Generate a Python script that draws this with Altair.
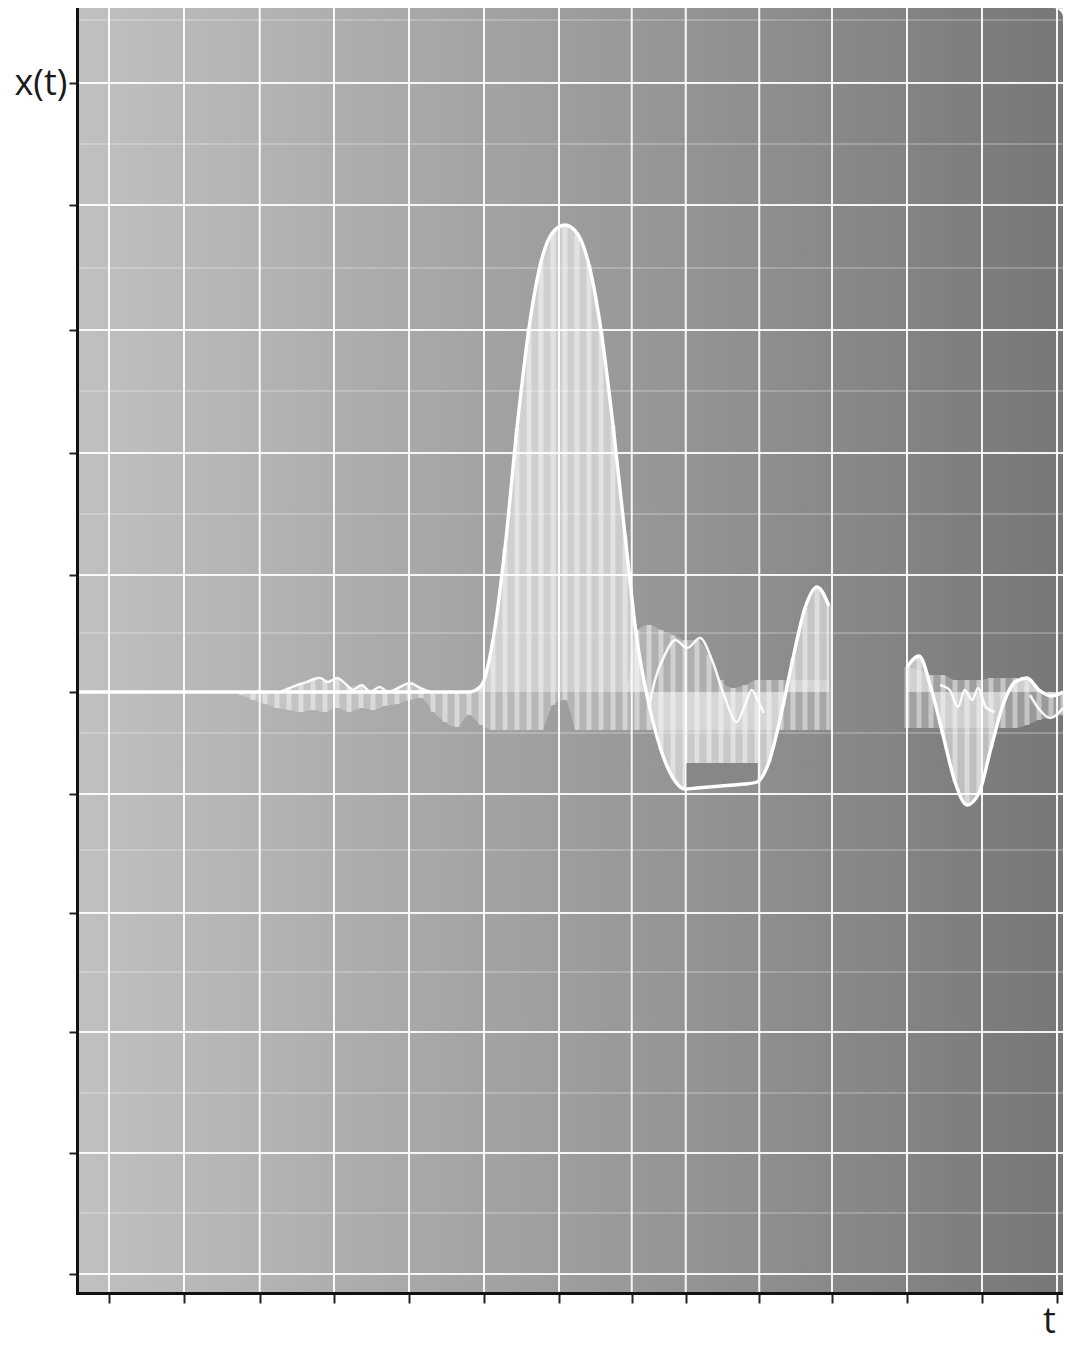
import altair as alt
import pandas as pd

W, H = 986, 1285

# ---- axis tick positions (no labels in the original) ----
t_ticks = [0, 1, 2.01, 3, 4, 5, 6, 6.97, 7.69, 8.67, 9.64, 10.64, 11.64, 12.64]
y_ticks = [6.09, 4.87, 3.62, 2.39, 1.17, 0, -1.02, -2.21, -3.40, -4.61, -5.82]
y_major = [6.09, 4.87, 3.62, 2.39, 1.17, -1.02, -2.21, -3.40, -4.61, -5.82]
y_minor = [6.72, 5.48, 4.24, 3.01, 1.78, 0.59, -0.41, -1.58, -2.80, -4.01, -5.21]

# ---- main signal, left + central part ----
left_t = [1.76, 1.92, 2.08, 2.24, 2.40, 2.56, 2.72, 2.88, 3.04, 3.20,
          3.36, 3.52, 3.68, 3.84, 4.00, 4.16, 4.32, 4.48, 4.64, 4.80]
left_x = [0] * 20
left_band_top = [0, 0, 0, 0, 0.04, 0.08, 0.13, 0.11, 0.14, 0.05,
                 0.07, 0.02, 0.02, 0.04, 0.09, 0.04, 0, 0, 0, 0]
left_band_bot = [-0.03, -0.08, -0.12, -0.16, -0.18, -0.20, -0.18, -0.20, -0.16, -0.20,
                 -0.16, -0.18, -0.14, -0.12, -0.08, -0.06, -0.20, -0.30, -0.35, -0.23]

peak_t = [4.96, 5.12, 5.28, 5.44, 5.60, 5.76, 5.92, 6.08, 6.24, 6.40,
          6.56, 6.72, 6.88, 7.04, 7.20, 7.36, 7.52, 7.68, 7.84, 8.00,
          8.16, 8.32, 8.48, 8.64, 8.80, 8.96, 9.12, 9.28, 9.44, 9.60]
peak_x = [0.06, 0.52, 1.44, 2.64, 3.64, 4.30, 4.60, 4.67, 4.59, 4.27,
          3.62, 2.67, 1.57, 0.52, -0.13, -0.58, -0.86, -0.97, -0.96, -0.95,
          -0.94, -0.93, -0.92, -0.90, -0.70, -0.23, 0.34, 0.84, 1.05, 0.86]
peak_band_top = [0, 0, 0, 0, 0, 0, 0, 0, 0, 0,
                 0, 0, 0, 0.62, 0.67, 0.62, 0.57, 0.52, 0.52, 0.37,
                 0.12, 0.04, 0.07, 0.12, 0.12, 0.12, 0.12, 0.12, 0.12, 0.12]
peak_band_bot = [-0.33, -0.38, -0.38, -0.38, -0.38, -0.38, -0.13, -0.08, -0.38, -0.38,
                 -0.38, -0.38, -0.38, -0.38, -0.38, -0.38, -0.38, -0.38, -0.38, -0.38,
                 -0.38, -0.38, -0.38, -0.38, -0.38, -0.38, -0.38, -0.38, -0.38, -0.38]

# ---- main signal, right part (after the gap) ----
right_t = [10.64, 10.80, 10.96, 11.12, 11.28, 11.44, 11.60, 11.76, 11.92, 12.08,
           12.24, 12.40, 12.56, 12.72]
right_x = [0.25, 0.36, 0.04, -0.43, -0.90, -1.13, -1.01, -0.56, -0.13, 0.10,
           0.14, 0.02, -0.04, 0.0]
right_band_top = [0.25, 0.22, 0.17, 0.17, 0.12, 0.12, 0.12, 0.14, 0.14, 0.14,
                  0.12, 0.02, 0, 0]
right_band_bot = [-0.36, -0.36, -0.36, -0.36, -0.36, -0.36, -0.36, -0.36, -0.36, -0.36,
                  -0.33, -0.28, -0.26, -0.23]

# ---- secondary wiggly traces ----
wig1_t = [2.28, 2.41, 2.55, 2.64, 2.73, 2.81, 2.92, 3.04, 3.17, 3.25,
          3.37, 3.48, 3.61, 3.72, 3.88, 4.01, 4.15, 4.28]
wig1_x = [0, 0.04, 0.08, 0.10, 0.13, 0.14, 0.10, 0.14, 0.07, 0.02,
          0.07, 0, 0.05, 0, 0.05, 0.09, 0.04, 0]
wig2_t = [7.21, 7.28, 7.41, 7.55, 7.71, 7.88, 8.04, 8.20, 8.37, 8.48, 8.57, 8.65, 8.73]
wig2_x = [-0.11, 0.12, 0.37, 0.52, 0.44, 0.54, 0.32, -0.03, -0.30, -0.13, 0.02, -0.08, -0.21]
wig3_t = [11.08, 11.21, 11.32, 11.41, 11.51, 11.59, 11.69, 11.81]
wig3_x = [0.07, 0.02, -0.15, 0.02, -0.08, 0.04, -0.15, -0.20]
wig4_t = [12.28, 12.41, 12.55, 12.72]
wig4_x = [-0.03, -0.18, -0.26, -0.16]

# ---- notch in the fill under the valley ----
notch_t = [7.70, 8.65]
notch_top = [-0.71, -0.71]
notch_bot = [-0.97, -0.90]

T0, T1 = -0.4267, 12.72
xs = alt.Scale(domain=[T0, T1], nice=False, zero=False)
ys = alt.Scale(domain=[-6.01, 6.84], nice=False, zero=False)

xax = alt.Axis(values=t_ticks, labels=False, grid=False, domainColor="#111111",
               domainWidth=3, domainCap="square", tickColor="#222222", tickWidth=2,
               tickSize=10, title="t", titleFont="Open Sans", titleFontSize=36,
               titleFontWeight="normal", titleColor="#1a1a1a", titleX=972, titleY=39,
               titleAlign="center", titleBaseline="alphabetic", zindex=2)
yax = alt.Axis(values=y_ticks, labels=False, grid=False, domainColor="#111111",
               domainWidth=3, domainCap="square", tickColor="#222222", tickWidth=2,
               tickSize=8, title="x(t)", titleFont="Open Sans", titleFontSize=36,
               titleFontWeight="normal", titleColor="#1a1a1a", titleAngle=0,
               titleX=-63, titleY=75, titleAlign="left", titleBaseline="middle", zindex=2)


def X(f):
    return alt.X(f, type="quantitative", scale=xs, axis=xax)


def Y(f):
    return alt.Y(f, type="quantitative", scale=ys, axis=yax)


# tables
main_df = pd.DataFrame({
    "t": [T0] + left_t + peak_t + right_t,
    "x": [0] + left_x + peak_x + right_x,
    "seg": ["a"] * (1 + len(left_t) + len(peak_t)) + ["b"] * len(right_t),
})
all_t = left_t + peak_t + right_t
all_x = left_x + peak_x + right_x
all_top = left_band_top + peak_band_top + right_band_top
all_bot = left_band_bot + peak_band_bot + right_band_bot
stripe_df = pd.DataFrame({
    "t": all_t,
    "hi": [max(a, b, 0) for a, b in zip(all_x, all_top)],
    "lo": [min(a, b, 0) for a, b in zip(all_x, all_bot)],
})
band_df = pd.DataFrame({"t": all_t, "top": all_top, "bot": all_bot,
                        "seg": ["a"] * (len(left_t) + len(peak_t)) + ["b"] * len(right_t)})
wig_df = pd.DataFrame({
    "t": wig1_t + wig2_t + wig3_t + wig4_t,
    "x": wig1_x + wig2_x + wig3_x + wig4_x,
    "w": ["1"] * len(wig1_t) + ["2"] * len(wig2_t) + ["3"] * len(wig3_t) + ["4"] * len(wig4_t),
})
notch_df = pd.DataFrame({"t": notch_t, "top": notch_top, "bot": notch_bot})

bg = alt.Chart(pd.DataFrame({"k": [0]})).mark_rect(
    color=alt.Gradient(gradient="linear",
                       stops=[alt.GradientStop(color="#c0c0c0", offset=0),
                              alt.GradientStop(color="#9d9d9d", offset=0.5),
                              alt.GradientStop(color="#777777", offset=1)],
                       x1=0, x2=1, y1=0, y2=0),
    cornerRadiusTopRight=10,
).encode(x=alt.value(0), x2=alt.value(W), y=alt.value(0), y2=alt.value(H))

minor = alt.Chart(pd.DataFrame({"y": y_minor})).mark_rule(
    color="white", strokeWidth=1.5, opacity=0.3
).encode(y=Y("y"), x=alt.value(0), x2=alt.value(W))

major = alt.Chart(pd.DataFrame({"y": y_major})).mark_rule(
    color="white", strokeWidth=2, opacity=0.9
).encode(y=Y("y"), x=alt.value(0), x2=alt.value(W))

vgrid = alt.Chart(pd.DataFrame({"t": t_ticks})).mark_rule(
    color="white", strokeWidth=2, opacity=0.92
).encode(x=X("t"), y=alt.value(0), y2=alt.value(H))

fill = alt.Chart(main_df).mark_area(
    color="white", opacity=0.5, interpolate="monotone"
).encode(x=X("t"), y=Y("x"), y2=alt.Y2(datum=0), detail="seg:N")

band = alt.Chart(band_df).mark_area(
    color="white", opacity=0.25, interpolate="monotone"
).encode(x=X("t"), y=Y("top"), y2="bot", detail="seg:N")

stripes = alt.Chart(stripe_df).mark_rule(
    color="white", strokeWidth=5, opacity=0.42, strokeCap="butt"
).encode(x=X("t"), y=Y("lo"), y2="hi")

notch = alt.Chart(notch_df).mark_area(color="#878787", opacity=1).encode(
    x=X("t"), y=Y("top"), y2="bot")

wig = alt.Chart(wig_df).mark_line(
    color="white", strokeWidth=2.5, opacity=0.9, interpolate="monotone"
).encode(x=X("t"), y=Y("x"), detail="w:N")

line = alt.Chart(main_df).mark_line(
    color="white", strokeWidth=3.4, interpolate="monotone"
).encode(x=X("t"), y=Y("x"), detail="seg:N")

chart = alt.layer(bg, minor, major, vgrid, band, fill, stripes, notch, wig, line).properties(
    width=W, height=H,
    autosize=alt.AutoSizeParams(type="none"),
    padding={"left": 69, "top": 0, "right": 0, "bottom": 51},
).configure_view(strokeWidth=0).configure(background="white")

chart.save("out.html", embed_options={"renderer": "svg", "actions": False})
